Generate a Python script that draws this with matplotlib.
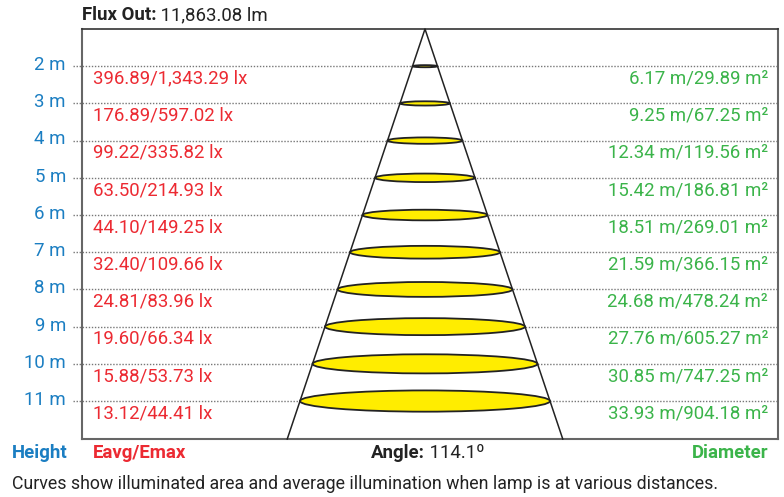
import matplotlib.pyplot as plt
from matplotlib.patches import Ellipse

heights = [2, 3, 4, 5, 6, 7, 8, 9, 10, 11]
eavg_emax = ["396.89/1,343.29", "176.89/597.02", "99.22/335.82", "63.50/214.93",
             "44.10/149.25", "32.40/109.66", "24.81/83.96", "19.60/66.34",
             "15.88/53.73", "13.12/44.41"]
diameters = ["6.17", "9.25", "12.34", "15.42", "18.51", "21.59", "24.68",
             "27.76", "30.85", "33.93"]
areas = ["29.89", "67.25", "119.56", "186.81", "269.01", "366.15", "478.24",
         "605.27", "747.25", "904.18"]
flux = "11,863.08"
angle = "114.1"

BLUE = "#1b7ec2"
RED = "#ec2a32"
GREEN = "#3bb44a"
DARK = "#222222"

plt.rcParams['font.family'] = ['Roboto', 'DejaVu Sans']
fs = 13.4

fig = plt.figure(figsize=(7.84, 4.97), dpi=100)
W, H = 784, 497
ax = fig.add_axes([82 / W, (H - 439) / H, 696 / W, 410 / H])
ax.set_xlim(0, 696)
ax.set_ylim(12.02, 1.0)
ax.set_xticks([])
ax.set_yticks([])
for s in ax.spines.values():
    s.set_color("#666666")
    s.set_linewidth(1.5)
ax.spines['top'].set_color("#333333")
ax.spines['top'].set_linewidth(1.2)

apex_x = 343
slope = 12.5  # px of half width per metre below apex

# cone
y_bot = 12.02
ax.plot([apex_x - slope * (y_bot - 1), apex_x, apex_x + slope * (y_bot - 1)],
        [y_bot, 1.0, y_bot], color="#222222", lw=1.1, clip_on=False, zorder=3)

px_per_m = 410 / 11.02
for i, h in enumerate(heights):
    # dotted guide line
    ax.plot([-9, 696], [h, h], color="#777777", lw=1, ls=(0, (1, 1.2)),
            clip_on=False, zorder=1)
    half = slope * (h - 1)
    ell_h = 0.085 * 2 * half / px_per_m
    ax.add_patch(Ellipse((apex_x, h), 2 * half, ell_h, facecolor="#ffed00",
                         edgecolor="#222222", lw=1.3, zorder=4))
    ax.text(-16, h - 0.03, f"{h} m", color=BLUE, fontsize=fs, ha="right",
            va="center", clip_on=False)
    ax.text(11, h + 0.33, f"{eavg_emax[i]} lx", color=RED, fontsize=fs,
            ha="left", va="center")
    ax.text(686, h + 0.33, f"{diameters[i]} m/{areas[i]} m²", color=GREEN,
            fontsize=fs, ha="right", va="center")

# title
t = fig.text(82 / W, 1 - 15 / H, "Flux Out:", fontsize=fs, fontweight="bold",
             color=DARK, va="center", ha="left")
ax.annotate(f" {flux} lm", xy=(1, 0.5), xycoords=t, va="center", ha="left",
            fontsize=fs, color=DARK)

# bottom labels
yb = 1 - 453 / H
fig.text(12 / W, yb, "Height", fontsize=fs, fontweight="bold", color=BLUE, va="center")
fig.text(93 / W, yb, "Eavg/Emax", fontsize=fs, fontweight="bold", color=RED, va="center")
fig.text(768 / W, yb, "Diameter", fontsize=fs, fontweight="bold", color=GREEN,
         va="center", ha="right")
ta = fig.text(371 / W, yb, "Angle:", fontsize=fs, fontweight="bold", color=DARK, va="center")
ax.annotate(f" {angle}º", xy=(1, 0.5), xycoords=ta, va="center", ha="left",
            fontsize=fs, color=DARK)

fig.text(12 / W, 1 - 484 / H,
         "Curves show illuminated area and average illumination when lamp is at various distances.",
         fontsize=12.8, color=DARK, va="center")

fig.savefig("out.png", dpi=100)
